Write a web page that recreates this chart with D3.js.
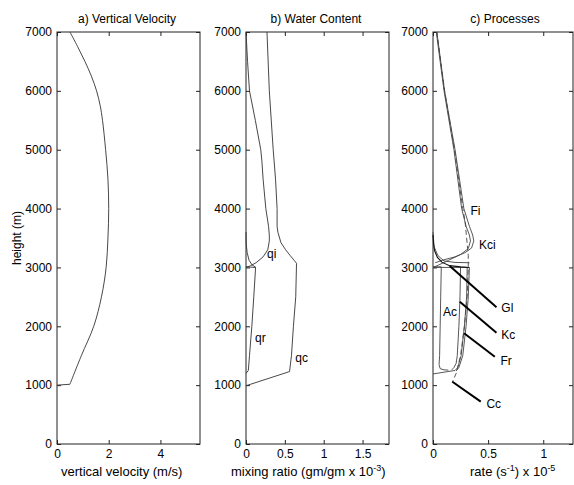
<!DOCTYPE html>
<html>
<head>
<meta charset="utf-8">
<script src="https://cdn.jsdelivr.net/npm/d3@7"></script>
<style>
  body { margin: 0; background: #fff; }
  svg { display: block; font-family: "Liberation Sans", Arial, sans-serif; }
</style>
</head>
<body>
<svg id="chart" width="574" height="485"></svg>
<script>
// heights (m) shared by all three panels
const HEIGHT_TICKS = [0, 1000, 2000, 3000, 4000, 5000, 6000, 7000];

// a) vertical velocity (m/s) against height
const velHeight = [1000, 1015, 1500, 2000, 2500, 3000, 3500, 4000, 4500, 5000, 5500, 5750, 6000, 6250, 6500, 6750, 7000];
const velValue  = [0, 0.5, 0.94, 1.42, 1.72, 1.90, 1.97, 2.0, 1.97, 1.88, 1.76, 1.67, 1.53, 1.33, 1.08, 0.8, 0.5];

// b) water content, mixing ratio (gm/gm x 1e-3): [value, height]
const qi = [[0, 7000], [0.02, 6500], [0.045, 6000], [0.12, 5500], [0.19, 5000], [0.205, 4800], [0.22, 4500],
            [0.255, 4000], [0.29, 3700], [0.3, 3550], [0.3, 3450], [0.28, 3300], [0.22, 3180], [0.13, 3080],
            [0.06, 3030], [0, 3000]];
const qr = [[0, 3600], [0.003, 3400], [0.015, 3250], [0.04, 3120], [0.08, 3040], [0.12, 3010], [0.123, 2990],
            [0.1, 2500], [0.075, 2000], [0.045, 1500], [0.03, 1250], [0, 1200]];
const qrTop = [[0, 3010], [0.12, 3000]];
const qc = [[0.27, 7000], [0.3, 6000], [0.35, 5000], [0.38, 4500], [0.4, 4000], [0.4, 3700], [0.41, 3600],
            [0.45, 3420], [0.51, 3300], [0.57, 3200], [0.62, 3120], [0.65, 3070], [0.64, 2500], [0.61, 2000],
            [0.585, 1500], [0.56, 1230], [0, 990]];

// c) process rates (1/s x 1e-5): [value, height]
const Fi  = [[0.03, 7000], [0.10, 6000], [0.19, 5000], [0.26, 4000], [0.30, 3700], [0.33, 3550], [0.34, 3450],
             [0.32, 3320], [0.25, 3220], [0.14, 3120], [0.05, 3040], [0, 3000]];
const Kci = [[0.035, 7000], [0.105, 6000], [0.2, 5000], [0.28, 4000], [0.33, 3700], [0.36, 3550], [0.37, 3450],
             [0.35, 3330], [0.29, 3250], [0.2, 3180], [0.1, 3130], [0.02, 3080]];
const Cc  = [[0.035, 7000], [0.105, 6000], [0.195, 5000], [0.27, 4000], [0.29, 3800], [0.3, 3600], [0.31, 3400],
             [0.32, 3200], [0.32, 3000], [0.31, 2500], [0.285, 2000], [0.25, 1500], [0.21, 1200], [0.175, 1050]];
const Gl  = [[0, 3550], [0.005, 3400], [0.015, 3280], [0.04, 3170], [0.08, 3090], [0.15, 3030], [0.25, 3010], [0.33, 3000]];
const Gs  = [[0, 3600], [0.01, 3350], [0.045, 3200], [0.1, 3110], [0.2, 3085], [0.33, 3080]];
const Ac  = [[0, 3010], [0.075, 3010], [0.07, 2500], [0.065, 2000], [0.06, 1500], [0.055, 1350], [0.065, 1280],
             [0.1, 1260], [0.14, 1255]];
const Kc  = [[0.25, 3010], [0.245, 2500], [0.235, 2000], [0.22, 1500], [0.21, 1370], [0.19, 1300], [0.17, 1260]];
const Fr  = [[0, 3000], [0.31, 3000], [0.305, 2500], [0.285, 2000], [0.255, 1500], [0.225, 1300], [0.2, 1250], [0, 1190]];
const Fr2 = [[0.33, 3000], [0.32, 2500], [0.3, 2000], [0.27, 1500], [0.235, 1300], [0.21, 1240]];

// pointer lines in panel c: [from, to]
const pointers = [
    [[0.152, 3024], [0.576, 2323]],
    [[0.243, 2418], [0.576, 1891]],
    [[0.282, 1881], [0.561, 1483]],
    [[0.176, 1058], [0.433, 719]]
];

// curve labels: [text, value, height]
const labelsB = [["qi", 0.27, 3152], ["qr", 0.116, 1733], ["qc", 0.634, 1393]];
const labelsC = [["Fi", 0.34, 3891], ["Kci", 0.417, 3313], ["Gl", 0.62, 2248], ["Kc", 0.62, 1779],
                 ["Fr", 0.612, 1342], ["Cc", 0.485, 607], ["Ac", 0.091, 2175]];

const svg = d3.select("#chart");
const TOP = 32, BOTTOM = 444;

const y = d3.scaleLinear().domain([0, 7000]).range([BOTTOM, TOP]);

const panels = [
    {left: 57,  right: 200, domain: [0, 5.53], ticks: [0, 2, 4],          title: "a) Vertical Velocity", titleX: 127},
    {left: 246, right: 389, domain: [0, 1.84], ticks: [0, 0.5, 1, 1.5],   title: "b) Water Content",     titleX: 316},
    {left: 433, right: 573, domain: [0, 1.27], ticks: [0, 0.5, 1],        title: "c) Processes",         titleX: 505}
];

const line = (xs) => d3.line().x(d => xs(d[0])).y(d => y(d[1]));

function drawPanel(p) {
    const x = d3.scaleLinear().domain(p.domain).range([p.left, p.right]);
    const g = svg.append("g");

    g.append("g")
        .attr("transform", `translate(${p.left},0)`)
        .call(d3.axisLeft(y).tickValues(HEIGHT_TICKS).tickSize(-4).tickSizeOuter(0)
            .tickPadding(5).tickFormat(d => String(d)));
    g.append("g")
        .attr("transform", `translate(${p.right},0)`)
        .call(d3.axisRight(y).tickValues(HEIGHT_TICKS).tickSize(-4).tickSizeOuter(0).tickFormat(""));
    g.append("g")
        .attr("transform", `translate(0,${BOTTOM})`)
        .call(d3.axisBottom(x).tickValues(p.ticks).tickSize(-4).tickSizeOuter(0)
            .tickPadding(5).tickFormat(d => String(d)));
    g.append("g")
        .attr("transform", `translate(0,${TOP})`)
        .call(d3.axisTop(x).tickValues(p.ticks).tickSize(-4).tickSizeOuter(0).tickFormat(""));

    g.selectAll(".domain").remove();
    g.selectAll(".tick line").attr("stroke", "#222");
    g.selectAll(".tick text").attr("font-size", 12).attr("font-family", "Liberation Sans, Arial, sans-serif").attr("fill", "#000");

    g.append("rect")
        .attr("x", p.left).attr("y", TOP)
        .attr("width", p.right - p.left).attr("height", BOTTOM - TOP)
        .attr("fill", "none").attr("stroke", "#222").attr("stroke-width", 1);

    g.append("text")
        .attr("x", p.titleX).attr("y", 23)
        .attr("text-anchor", "middle")
        .attr("font-size", 12)
        .text(p.title);

    return {g, x};
}

const pa = drawPanel(panels[0]);
const pb = drawPanel(panels[1]);
const pc = drawPanel(panels[2]);

// a) vertical velocity: flat foot at cloud base, then a smooth profile
const vel = velHeight.map((h, i) => [velValue[i], h]);
pa.g.append("path")
    .datum(vel.slice(0, 2))
    .attr("fill", "none").attr("stroke", "#333").attr("stroke-width", 0.9)
    .attr("d", line(pa.x));
pa.g.append("path")
    .datum(vel.slice(1))
    .attr("fill", "none").attr("stroke", "#333").attr("stroke-width", 0.9)
    .attr("d", d3.line().x(d => pa.x(d[0])).y(d => y(d[1])).curve(d3.curveCatmullRom.alpha(0.5)));

// b) water content
[qi, qr, qrTop, qc].forEach(s => {
    pb.g.append("path").datum(s)
        .attr("fill", "none").attr("stroke", "#333").attr("stroke-width", 0.9)
        .attr("d", line(pb.x));
});
pb.g.selectAll(".lbl").data(labelsB).enter().append("text")
    .attr("x", d => pb.x(d[1])).attr("y", d => y(d[2]))
    .attr("font-size", 12).text(d => d[0]);

// c) processes
[Fi, Kci, Gs, Ac, Kc, Fr, Fr2].forEach(s => {
    pc.g.append("path").datum(s)
        .attr("fill", "none").attr("stroke", "#444").attr("stroke-width", 0.9)
        .attr("d", line(pc.x));
});
pc.g.append("path").datum(Gl)
    .attr("fill", "none").attr("stroke", "#111").attr("stroke-width", 1.1)
    .attr("d", line(pc.x));
pc.g.append("path").datum(Cc)
    .attr("fill", "none").attr("stroke", "#444").attr("stroke-width", 0.9)
    .attr("stroke-dasharray", "5,3")
    .attr("d", line(pc.x));
pointers.forEach(s => {
    pc.g.append("path").datum(s)
        .attr("fill", "none").attr("stroke", "#000").attr("stroke-width", 2)
        .attr("d", line(pc.x));
});
pc.g.selectAll(".lbl").data(labelsC).enter().append("text")
    .attr("x", d => pc.x(d[1])).attr("y", d => y(d[2]))
    .attr("font-size", 12).text(d => d[0]);

// axis labels
svg.append("text")
    .attr("transform", "translate(21,238) rotate(-90)")
    .attr("text-anchor", "middle").attr("font-size", 12)
    .text("height (m)");

svg.append("text").attr("x", 61).attr("y", 476).attr("font-size", 13)
    .text("vertical velocity (m/s)");

const xl2 = svg.append("text").attr("x", 231).attr("y", 476).attr("font-size", 13);
xl2.append("tspan").text("mixing ratio (gm/gm x 10");
xl2.append("tspan").attr("font-size", 9).attr("dy", -5).text("-3");
xl2.append("tspan").attr("dy", 5).text(")");

const xl3 = svg.append("text").attr("x", 470).attr("y", 476).attr("font-size", 13);
xl3.append("tspan").text("rate (s");
xl3.append("tspan").attr("font-size", 9).attr("dy", -5).text("-1");
xl3.append("tspan").attr("dy", 5).text(") x 10");
xl3.append("tspan").attr("font-size", 9).attr("dy", -5).text("-5");
</script>
</body>
</html>
